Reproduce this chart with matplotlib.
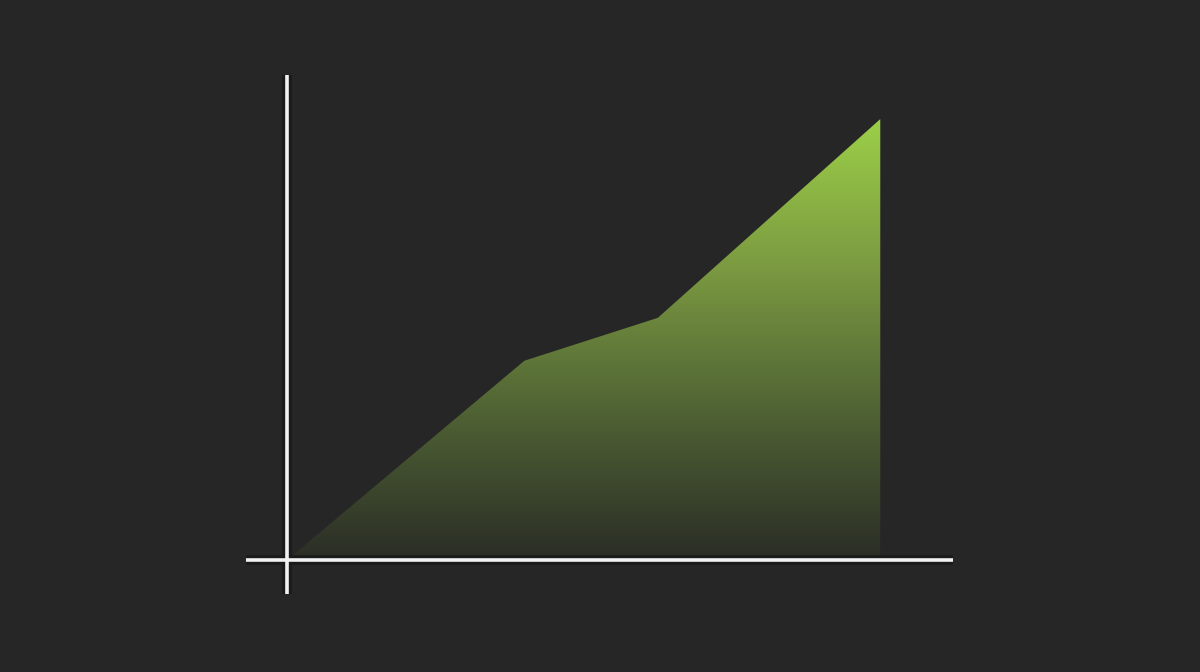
import numpy as np
import matplotlib
matplotlib.use("Agg")
import matplotlib.pyplot as plt
from matplotlib.colors import LinearSegmentedColormap

# data
x_vals = [0, 4, 6.25, 10]
y_vals = [0, 45.5, 55.3, 100.7]

BG = "#262626"
LINE = "#f2f2f2"

fig = plt.figure(figsize=(12, 6.72), dpi=100, facecolor=BG)
ax = fig.add_axes([0, 0, 1, 1])
ax.set_facecolor(BG)
ax.set_xlim(-4.84, 15.39)
ax.set_ylim(-25.6, 127.9)
ax.axis("off")

# gradient fill under the line
cmap = LinearSegmentedColormap.from_list("grn", ["#2a2d26", "#4f6234", "#7b9a41", "#9ccf48"])
grad = np.linspace(0, 1, 256).reshape(-1, 1)
img = ax.imshow(grad, extent=[x_vals[0], x_vals[-1], 0, max(y_vals)], origin="lower",
                cmap=cmap, aspect="auto", zorder=1)
clip = plt.Polygon(list(zip(x_vals, y_vals)) + [(x_vals[-1], 0), (x_vals[0], 0)],
                   closed=True, transform=ax.transData)
img.set_clip_path(clip)

# axis lines with a faint shadow
for lw, col, z in [(7, "#1b1b1b", 2), (2.6, LINE, 3)]:
    ax.axhline(0, xmin=0.205, xmax=0.794, color=col, lw=lw, zorder=z, solid_capstyle="butt")
    ax.axvline(0, ymin=0.116, ymax=0.888, color=col, lw=lw, zorder=z, solid_capstyle="butt")

fig.savefig("out.png", dpi=100, facecolor=BG)
